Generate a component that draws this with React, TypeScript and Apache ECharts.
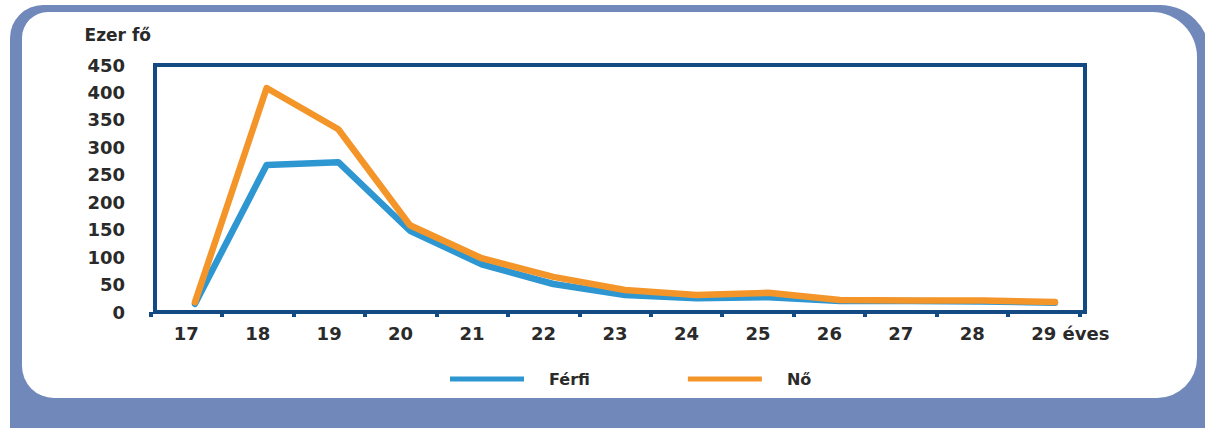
import React, { useEffect, useRef } from "react";
import * as echarts from "echarts";

// ---- data ----
const ages = [17, 18, 19, 20, 21, 22, 23, 24, 25, 26, 27, 28, 29];
const ageLabels = ["17", "18", "19", "20", "21", "22", "23", "24", "25", "26", "27", "28", "29"];
const ferfi = [15, 268, 273, 148, 87, 51, 31, 25, 27, 20, 20, 19, 17];
const no = [18, 408, 333, 158, 98, 64, 40, 31, 35, 22, 21, 21, 18];
const seriesNames = ["Férfi", "Nő"];
const yMin = 0;
const yMax = 450;
const yStep = 50;
const yName = "Ezer fő";
const lastSuffix = " éves";

const TEXT = "#2a2a2a";
const AXIS = "#134a84";
const FRAME = "#7088ba";
const BLUE = "#2e97d1";
const ORANGE = "#f4952a";
const FONT = "DejaVu Sans";

export default function App() {
  const ref = useRef<HTMLDivElement>(null);
  useEffect(() => {
    if (!ref.current) return;
    const chart = echarts.init(ref.current, undefined, { renderer: "svg" });
    const lastIdx = ageLabels.length - 1;
    chart.setOption({
      animation: false,
      backgroundColor: "#ffffff",
      graphic: {
        elements: [
          {
            type: "rect",
            z: -10,
            silent: true,
            shape: { x: 10, y: 5, width: 1200, height: 440, r: [33, 50, 0, 0] },
            style: { fill: FRAME },
          },
          {
            type: "rect",
            z: -9,
            silent: true,
            shape: { x: 22, y: 12, width: 1175, height: 386, r: [26, 45, 40, 32] },
            style: { fill: "#ffffff" },
          },
        ],
      },
      grid: [
        {
          left: 155,
          right: 120,
          top: 65,
          bottom: 116,
          show: true,
          backgroundColor: "#ffffff",
          borderColor: AXIS,
          borderWidth: 4,
          z: 1,
        },
        {
          left: 150.5,
          right: 125.5,
          top: 65,
          bottom: 116,
          show: false,
        },
      ],
      legend: {
        data: seriesNames,
        left: 445,
        top: 366,
        icon: "rect",
        itemWidth: 74,
        itemHeight: 5,
        itemGap: 98,
        textStyle: {
          color: TEXT,
          fontFamily: FONT,
          fontWeight: "bold",
          fontSize: 16,
          padding: [0, 0, 0, 20],
        },
      },
      xAxis: [
        {
          gridIndex: 1,
          type: "category",
          data: ageLabels,
          boundaryGap: true,
          axisLine: { show: false },
          axisTick: {
            show: true,
            length: 5,
            interval: 0,
            lineStyle: { color: AXIS, width: 4 },
          },
          axisLabel: {
            interval: 0,
            margin: 12,
            color: TEXT,
            fontFamily: FONT,
            fontWeight: "bold",
            fontSize: 18,
            formatter: (v: string, i: number) =>
              i === lastIdx ? "{s|}" + v + lastSuffix : v,
            rich: {
              s: { width: 53 },
            },
          },
          splitLine: { show: false },
        },
        {
          gridIndex: 0,
          type: "value",
          min: 16.442,
          max: 29.419,
          show: false,
        },
      ],
      yAxis: [
        {
          gridIndex: 0,
          type: "value",
          min: yMin,
          max: yMax,
          interval: yStep,
          name: yName,
          nameLocation: "end",
          nameGap: 22,
          nameTextStyle: {
            align: "right",
            color: TEXT,
            fontFamily: FONT,
            fontWeight: "bold",
            fontSize: 17,
            padding: [0, 4, 0, 0],
          },
          axisLine: { show: false },
          axisTick: { show: false },
          axisLabel: {
            margin: 30,
            color: TEXT,
            fontFamily: FONT,
            fontWeight: "bold",
            fontSize: 18,
          },
          splitLine: { show: true, lineStyle: { color: "#d4d4d4", width: 1 } },
        },
        {
          gridIndex: 1,
          type: "value",
          min: yMin,
          max: yMax,
          show: false,
        },
      ],
      series: [
        {
          name: seriesNames[0],
          type: "line",
          xAxisIndex: 1,
          yAxisIndex: 0,
          data: ages.map((a, i) => [a, ferfi[i]]),
          symbol: "none",
          color: BLUE,
          lineStyle: { color: BLUE, width: 6.5, cap: "round", join: "round" },
          z: 3,
        },
        {
          name: seriesNames[1],
          type: "line",
          xAxisIndex: 1,
          yAxisIndex: 0,
          data: ages.map((a, i) => [a, no[i]]),
          symbol: "none",
          color: ORANGE,
          lineStyle: { color: ORANGE, width: 6.5, cap: "round", join: "round" },
          z: 4,
        },
      ],
    });
    return () => chart.dispose();
  }, []);
  return (
    <div
      ref={ref}
      style={{ position: "absolute", left: 0, top: 0, width: 1205, height: 428 }}
    />
  );
}
